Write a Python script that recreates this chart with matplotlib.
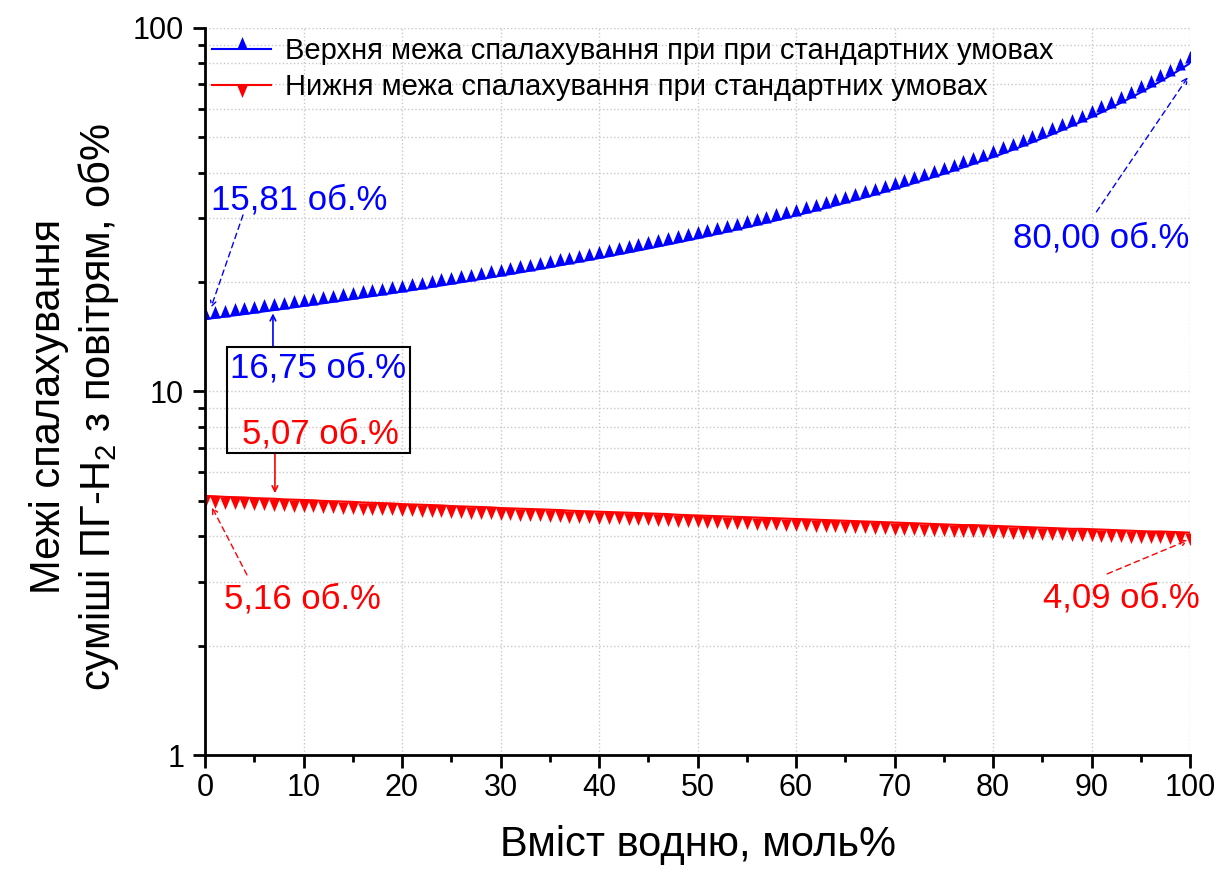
import numpy as np
import matplotlib
matplotlib.use('Agg')
import matplotlib.pyplot as plt
from matplotlib.ticker import FixedLocator, LogLocator, NullFormatter, MultipleLocator
from matplotlib.patches import Rectangle

plt.rcParams['font.family'] = ['Liberation Sans', 'DejaVu Sans']
plt.rcParams['mathtext.fontset'] = 'custom'
plt.rcParams['mathtext.rm'] = 'Liberation Sans'
plt.rcParams['mathtext.it'] = 'Liberation Sans'

# вміст водню, моль%
h2 = list(range(0, 101))

# верхня межа спалахування, об.%
upper = [15.81, 15.94, 16.07, 16.20, 16.33, 16.47, 16.61, 16.75, 16.89, 17.04,
         17.19, 17.34, 17.49, 17.65, 17.81, 17.97, 18.14, 18.31, 18.48, 18.65,
         18.83, 19.01, 19.20, 19.39, 19.58, 19.78, 19.98, 20.18, 20.39, 20.60,
         20.82, 21.04, 21.27, 21.50, 21.74, 21.98, 22.23, 22.49, 22.75, 23.01,
         23.28, 23.56, 23.85, 24.14, 24.44, 24.74, 25.06, 25.38, 25.71, 26.05,
         26.40, 26.76, 27.13, 27.51, 27.90, 28.30, 28.71, 29.14, 29.57, 30.02,
         30.49, 30.97, 31.46, 31.97, 32.50, 33.04, 33.61, 34.19, 34.79, 35.42,
         36.07, 36.74, 37.44, 38.16, 38.92, 39.70, 40.52, 41.37, 42.26, 43.18,
         44.15, 45.16, 46.22, 47.33, 48.50, 49.72, 51.01, 52.36, 53.79, 55.30,
         56.90, 58.59, 60.39, 62.30, 64.33, 66.50, 68.82, 71.31, 73.99, 76.88,
         80.00]

# нижня межа спалахування, об.%
lower = [5.16, 5.15, 5.13, 5.12, 5.11, 5.09, 5.08, 5.07, 5.05, 5.04,
         5.03, 5.02, 5.00, 4.99, 4.98, 4.97, 4.95, 4.94, 4.93, 4.92,
         4.90, 4.89, 4.88, 4.87, 4.86, 4.84, 4.83, 4.82, 4.81, 4.80,
         4.78, 4.77, 4.76, 4.75, 4.74, 4.73, 4.72, 4.70, 4.69, 4.68,
         4.67, 4.66, 4.65, 4.64, 4.63, 4.62, 4.61, 4.60, 4.58, 4.57,
         4.56, 4.55, 4.54, 4.53, 4.52, 4.51, 4.50, 4.49, 4.48, 4.47,
         4.46, 4.45, 4.44, 4.43, 4.42, 4.41, 4.40, 4.39, 4.38, 4.37,
         4.36, 4.35, 4.34, 4.33, 4.32, 4.31, 4.30, 4.29, 4.29, 4.28,
         4.27, 4.26, 4.25, 4.24, 4.23, 4.22, 4.21, 4.20, 4.19, 4.19,
         4.18, 4.17, 4.16, 4.15, 4.14, 4.13, 4.12, 4.12, 4.11, 4.10,
         4.09]

label_up = 'Верхня межа спалахування при при стандартних умовах'
label_low = 'Нижня межа спалахування при стандартних умовах'

# трикутники, що стоять основою на лінії (як в Origin)
tri_up = [(-1, 0), (1, 0), (0, 2.4), (-1, 0)]
tri_down = [(-1, 0), (1, 0), (0, -2.4), (-1, 0)]

fig = plt.figure(figsize=(12.17, 8.72), dpi=100)
ax = fig.add_axes([205/1217, 117/872, 985/1217, 727/872])

ax.plot(h2, upper, color='blue', lw=1.5, marker=tri_up, ms=18, mew=0, label=label_up)
ax.plot(h2, lower, color='red', lw=1.5, marker=tri_down, ms=18, mew=0, label=label_low)

ax.set_yscale('log')
ax.set_xlim(0, 100)
ax.set_ylim(1, 100)

ax.xaxis.set_major_locator(MultipleLocator(10))
ax.xaxis.set_minor_locator(MultipleLocator(5))
ax.yaxis.set_major_locator(FixedLocator([1, 10, 100]))
ax.set_yticklabels(['1', '10', '100'])
ax.yaxis.set_minor_locator(LogLocator(base=10, subs=np.arange(2, 10)))
ax.yaxis.set_minor_formatter(NullFormatter())

ax.grid(True, which='major', axis='x', color='#c8c8c8', ls=':', lw=1)
ax.grid(True, which='both', axis='y', color='#c8c8c8', ls=':', lw=1)

for s in ['top', 'right']:
    ax.spines[s].set_visible(False)
for s in ['left', 'bottom']:
    ax.spines[s].set_linewidth(2)

ax.tick_params(which='major', direction='out', length=9, width=2, labelsize=22)
ax.tick_params(axis='x', which='major', pad=4)
ax.tick_params(axis='y', which='major', pad=6)
ax.tick_params(which='minor', direction='out', length=5, width=2)

ax.set_xlabel('Вміст водню, моль%', fontsize=30, labelpad=16)
ax.set_ylabel('Межі спалахування\nсуміші ПГ-Н$_2$ з повітрям, об%', fontsize=30,
              linespacing=1.2)
ax.yaxis.set_label_coords(-0.085, 0.479)

ax.legend(loc='upper left', bbox_to_anchor=(-0.008, 1.007), frameon=False, fontsize=21,
          handlelength=2.05, handletextpad=0.45, labelspacing=0.25, borderpad=0.3,
          borderaxespad=0.2)

# підписи з пунктирними стрілками
def dashed(tail, head, c):
    ax.annotate('', xy=head, xytext=tail,
                arrowprops=dict(arrowstyle='->', ls=(0, (4, 3)), lw=1, color=c,
                                shrinkA=0, shrinkB=0))

ax.text(9.6, 33.6, '15,81 об.%', color='blue', fontsize=25, ha='center', va='center')
dashed((3.86, 30.6), (0.6, 17.0), 'blue')
ax.text(91.0, 26.4, '80,00 об.%', color='blue', fontsize=25, ha='center', va='center')
dashed((90.5, 31.2), (99.8, 73.3), 'blue')
ax.text(9.85, 2.69, '5,16 об.%', color='red', fontsize=25, ha='center', va='center')
dashed((4.26, 3.13), (0.7, 4.81), 'red')
ax.text(93.0, 2.70, '4,09 об.%', color='red', fontsize=25, ha='center', va='center')
dashed((91.6, 3.15), (99.8, 3.90), 'red')

# рамка з двома значеннями при 7 моль%
ax.add_patch(Rectangle((0.0223, 0.4154), 0.1858, 0.1458, transform=ax.transAxes,
                       fill=False, ec='black', lw=1.5, zorder=5))
ax.text(11.5, 11.6, '16,75 об.%', color='blue', fontsize=25, ha='center', va='center')
ax.text(11.7, 7.64, '5,07 об.%', color='red', fontsize=25, ha='center', va='center')
ax.annotate('', xy=(6.9, 16.4), xytext=(6.9, 13.26),
            arrowprops=dict(arrowstyle='->', color='blue', lw=1.2, shrinkA=0, shrinkB=0))
ax.annotate('', xy=(7.1, 5.25), xytext=(7.1, 6.77),
            arrowprops=dict(arrowstyle='->', color='red', lw=1.2, shrinkA=0, shrinkB=0))

fig.savefig('out.png', dpi=100)
